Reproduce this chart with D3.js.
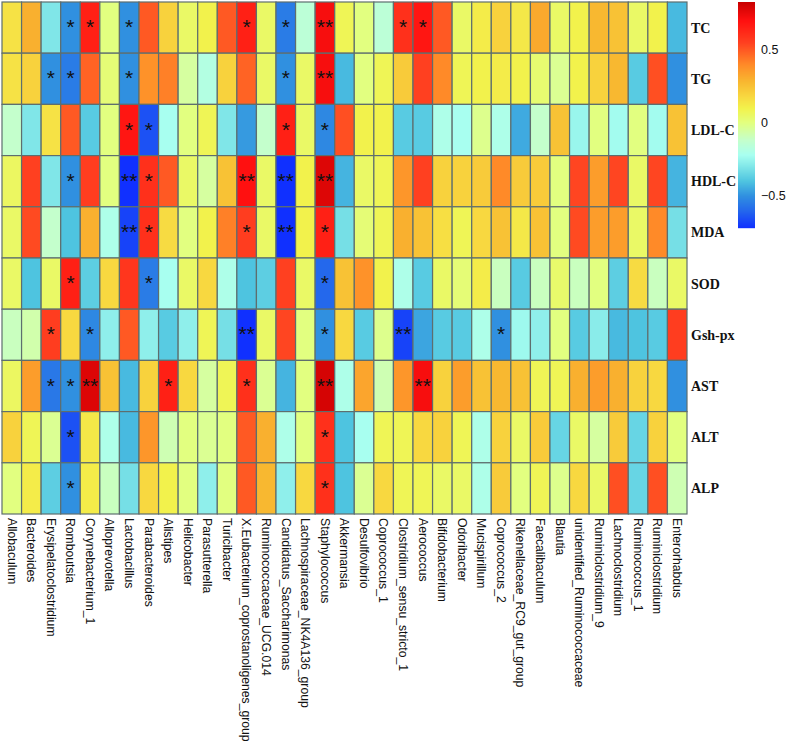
<!DOCTYPE html>
<html><head><meta charset="utf-8">
<script src="https://cdn.jsdelivr.net/npm/d3@7"></script>
<style>body{margin:0;background:#fff}svg{display:block}</style>
</head><body>
<svg id="chart" width="787" height="744"></svg>
<script>
const genera = ["Allobaculum","Bacteroides","Erysipelatoclostridium","Romboutsia","Corynebacterium_1","Alloprevotella","Lactobacillus","Parabacteroides","Alistipes","Helicobacter","Parasutterella","Turicibacter","X.Eubacterium_coprostanoligenes_group","Ruminococcaceae_UCG.014","Candidatus_Saccharimonas","Lachnospiraceae_NK4A136_group","Staphylococcus","Akkermansia","Desulfovibrio","Coprococcus_1","Clostridium_sensu_stricto_1","Aerococcus","Bifidobacterium","Odoribacter","Mucispirillum","Coprococcus_2","Rikenellaceae_RC9_gut_group","Faecalibaculum","Blautia","unidentified_Ruminococcaceae","Ruminiclostridium_9","Lachnoclostridium","Ruminococcus_1","Ruminiclostridium","Enterorhabdus"];
const indices = ["TC","TG","LDL-C","HDL-C","MDA","SOD","Gsh-px","AST","ALT","ALP"];

const valTC   = [0.15,0.3,-0.3,-0.5,0.65,0.0,-0.5,0.5,0.2,0.05,0.1,0.5,0.65,0.05,-0.55,-0.15,0.72,0.08,0.0,-0.15,0.6,0.68,0.5,0.05,0.12,0.2,0.13,0.32,0.05,0.1,0.28,0.25,0.05,0.1,-0.42];
const valTG   = [0.15,0.2,-0.5,-0.55,0.48,0.02,-0.5,0.38,0.42,-0.05,-0.18,0.2,0.48,0.05,-0.5,0.05,0.72,-0.42,0.0,0.08,0.22,0.55,0.4,0.08,0.1,0.12,0.1,0.03,-0.03,0.1,0.2,0.28,-0.38,0.52,-0.5];
const valLDL  = [-0.12,-0.3,0.15,0.5,-0.38,0.0,0.68,-0.65,-0.22,0.0,0.08,-0.3,-0.48,-0.12,0.65,0.05,-0.52,0.52,0.1,0.1,-0.38,-0.38,-0.2,-0.22,-0.02,-0.2,-0.45,-0.12,0.25,-0.25,0.0,-0.23,0.0,-0.23,0.25];
const valHDL  = [0.06,0.55,-0.3,-0.5,0.56,0.0,-0.72,0.6,0.5,0.05,-0.05,0.25,0.7,0.05,-0.72,0.1,0.78,-0.43,0.05,0.08,0.37,0.55,0.2,0.2,0.22,0.4,0.22,0.22,0.0,0.54,0.35,0.54,0.05,0.54,-0.43];
const valMDA  = [0.05,0.53,-0.12,-0.4,0.3,-0.2,-0.68,0.6,0.17,0.0,0.1,0.42,0.56,0.05,-0.72,0.1,0.65,-0.32,0.02,0.08,0.3,0.25,0.16,0.08,0.18,0.25,0.13,0.25,0.0,0.53,0.35,0.35,0.05,0.4,-0.32];
const valSOD  = [0.05,-0.4,0.05,0.65,-0.37,0.18,0.58,-0.55,-0.22,0.05,0.18,-0.2,-0.4,-0.37,0.55,0.05,-0.6,0.25,0.38,0.1,-0.2,-0.38,0.05,0.02,0.12,-0.1,-0.38,-0.1,0.04,-0.1,0.0,-0.37,0.17,-0.1,0.05];
const valGsh  = [-0.1,-0.07,0.56,0.18,-0.52,-0.27,0.5,-0.27,-0.38,-0.27,0.08,-0.32,-0.72,0.05,0.54,0.0,-0.5,0.18,-0.38,-0.02,-0.68,-0.46,-0.38,-0.38,-0.2,-0.5,-0.24,-0.27,0.0,-0.38,-0.28,-0.42,-0.4,-0.38,0.56];
const valAST  = [0.06,0.35,-0.56,-0.5,0.78,0.25,-0.42,0.2,0.65,0.18,-0.05,0.08,0.6,-0.03,-0.43,0.0,0.8,-0.2,0.33,-0.08,0.37,0.72,0.2,0.35,0.25,0.28,0.25,0.08,0.08,0.3,0.35,0.3,0.2,0.18,-0.5];
const valALT  = [0.2,0.08,-0.03,-0.65,0.13,-0.2,-0.42,0.37,-0.08,0.0,-0.03,0.0,0.5,0.3,-0.2,0.0,0.6,-0.4,-0.22,0.08,0.08,0.18,0.2,0.08,-0.2,0.2,0.05,0.22,-0.35,0.05,-0.05,0.22,-0.35,0.2,0.0];
const valALP  = [0.0,0.12,-0.37,-0.5,0.12,-0.1,-0.32,0.18,0.1,0.0,-0.27,0.0,0.5,0.28,-0.27,0.18,0.6,-0.4,-0.03,0.18,0.08,0.08,0.05,0.05,-0.2,0.22,0.0,0.08,-0.02,0.18,0.05,0.52,-0.35,0.52,-0.08];

// significance: number of asterisks per cell
const sigTC  = [0,0,0,1,1,0,1,0,0,0,0,0,1,0,1,0,2,0,0,0,1,1,0,0,0,0,0,0,0,0,0,0,0,0,0];
const sigTG  = [0,0,1,1,0,0,1,0,0,0,0,0,0,0,1,0,2,0,0,0,0,0,0,0,0,0,0,0,0,0,0,0,0,0,0];
const sigLDL = [0,0,0,0,0,0,1,1,0,0,0,0,0,0,1,0,1,0,0,0,0,0,0,0,0,0,0,0,0,0,0,0,0,0,0];
const sigHDL = [0,0,0,1,0,0,2,1,0,0,0,0,2,0,2,0,2,0,0,0,0,0,0,0,0,0,0,0,0,0,0,0,0,0,0];
const sigMDA = [0,0,0,0,0,0,2,1,0,0,0,0,1,0,2,0,1,0,0,0,0,0,0,0,0,0,0,0,0,0,0,0,0,0,0];
const sigSOD = [0,0,0,1,0,0,0,1,0,0,0,0,0,0,0,0,1,0,0,0,0,0,0,0,0,0,0,0,0,0,0,0,0,0,0];
const sigGsh = [0,0,1,0,1,0,0,0,0,0,0,0,2,0,0,0,1,0,0,0,2,0,0,0,0,1,0,0,0,0,0,0,0,0,0];
const sigAST = [0,0,1,1,2,0,0,0,1,0,0,0,1,0,0,0,2,0,0,0,0,2,0,0,0,0,0,0,0,0,0,0,0,0,0];
const sigALT = [0,0,0,1,0,0,0,0,0,0,0,0,0,0,0,0,1,0,0,0,0,0,0,0,0,0,0,0,0,0,0,0,0,0,0];
const sigALP = [0,0,0,1,0,0,0,0,0,0,0,0,0,0,0,0,1,0,0,0,0,0,0,0,0,0,0,0,0,0,0,0,0,0,0];

const legendTicks = [0.5, 0, -0.5];
const legendTickLabels = ["0.5", "0", "\u22120.5"];

const valueRows = [valTC,valTG,valLDL,valHDL,valMDA,valSOD,valGsh,valAST,valALT,valALP];
const sigRows = [sigTC,sigTG,sigLDL,sigHDL,sigMDA,sigSOD,sigGsh,sigAST,sigALT,sigALP];

const svg = d3.select("#chart");
const x = d3.scaleBand().domain(genera).range([2, 687]);
const y = d3.scaleBand().domain(indices).range([2, 514]);

const color = d3.scaleLinear()
  .domain([-0.72,-0.6,-0.5,-0.4,-0.3,-0.22,-0.12,0.0,0.1,0.18,0.28,0.4,0.55,0.7,0.83])
  .range(["#1030FF","#2468EC","#3090E0","#4EC4E0","#80E6E8","#A8FFF0","#C4FFCC","#E2FF80","#F2F24C","#F8D840","#F8B830","#FF8A28","#FF4020","#FF1010","#C80000"])
  .clamp(true);

const cells = [];
indices.forEach((r, i) => genera.forEach((c, j) => cells.push({r, c, v: valueRows[i][j], s: sigRows[i][j]})));

svg.append("g").selectAll("rect").data(cells).join("rect")
  .attr("x", d => x(d.c)).attr("y", d => y(d.r))
  .attr("width", x.bandwidth()).attr("height", y.bandwidth())
  .attr("fill", d => color(d.v))
  .attr("stroke", "#5E6E6E").attr("stroke-width", 1.2);

svg.append("g").selectAll("text").data(cells.filter(d => d.s > 0)).join("text")
  .attr("x", d => x(d.c) + x.bandwidth()/2)
  .attr("y", d => y(d.r) + y.bandwidth()/2 + 6.5)
  .attr("text-anchor", "middle")
  .attr("font-family", "Liberation Sans, Arial, sans-serif")
  .attr("font-size", 21)
  .attr("fill", "#111")
  .text(d => d.s === 2 ? "**" : "*");

// row labels
svg.append("g").selectAll("text").data(indices).join("text")
  .attr("x", 691).attr("y", d => y(d) + y.bandwidth()/2)
  .attr("dy", "0.35em")
  .attr("font-family", "Liberation Serif, Times New Roman, serif")
  .attr("font-weight", "bold").attr("font-size", 14)
  .attr("fill", "#111")
  .text(d => d);

// column labels
svg.append("g").selectAll("text").data(genera).join("text")
  .attr("transform", d => `translate(${x(d) + x.bandwidth()/2},518) rotate(90)`)
  .attr("dy", "0.35em")
  .attr("font-family", "Liberation Sans, Arial, sans-serif")
  .attr("font-size", 12.2)
  .attr("fill", "#111")
  .text(d => d);

// legend
const ly = d3.scaleLinear().domain([-0.72, 0.83]).range([228, 2]);
const steps = d3.range(0, 226);
svg.append("g").selectAll("rect").data(steps).join("rect")
  .attr("x", 738).attr("width", 17)
  .attr("y", d => 2 + d).attr("height", 1.2)
  .attr("fill", d => color(ly.invert(2 + d + 0.5)));

svg.append("g").selectAll("text").data(legendTicks).join("text")
  .attr("x", 761).attr("y", d => ly(d))
  .attr("dy", "0.35em")
  .attr("font-family", "Liberation Sans, Arial, sans-serif")
  .attr("font-size", 12.5)
  .attr("fill", "#111")
  .text((d, i) => legendTickLabels[i]);
</script>
</body></html>
